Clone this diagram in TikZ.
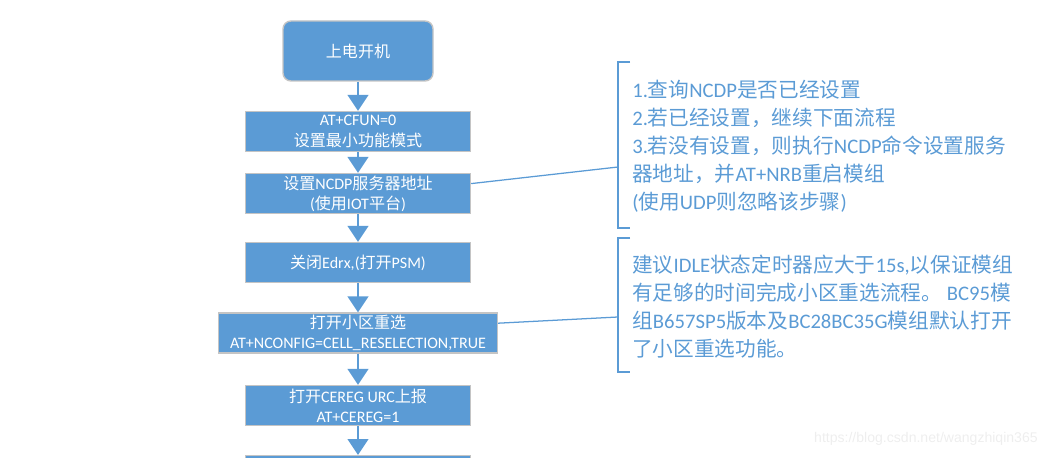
\documentclass[tikz,border=0pt]{standalone}
\usepackage{fontspec}
\setmainfont{Carlito}
\newfontfamily\zhfont{Noto Sans CJK SC}
\newfontfamily\markfont{Liberation Sans}
\newcommand{\zh}[1]{{\zhfont #1}}
\usetikzlibrary{arrows.meta}
\definecolor{boxblue}{HTML}{5B9BD5}
\definecolor{boxedge}{HTML}{C4C4C4}
\definecolor{notetext}{HTML}{5B9BD5}
\definecolor{marktext}{HTML}{EEEEEE}
\tikzset{
  stepbox/.style={draw=boxedge,fill=boxblue,line width=1pt,minimum width=5.625cm,minimum height=1cm,inner sep=0pt,text=white,align=center,font=\fontsize{11.4}{14.4}\selectfont},
  startbox/.style={stepbox,rounded corners=0.2cm,minimum width=3.75cm,minimum height=1.5cm},
  note/.style={font=\fontsize{14.7}{19.9}\selectfont,text=notetext,align=left,anchor=west,inner sep=0pt},
  bracket/.style={draw=boxblue,line width=1.4pt},
  link/.style={draw=boxblue,line width=0.9pt},
  arr/.style={-{Triangle[length=4mm,width=5.2mm]},draw=boxblue,line width=1.4pt}
}
\begin{document}
\begin{tikzpicture}[x=1cm,y=1cm]
\path[use as bounding box] (0,0) rectangle (26.2,11.425);
% flow
\node[startbox] (power) at (8.95,10.15) {\zh{上电开机}};
\node[stepbox] (cfun) at (8.95,8.1375) {AT+CFUN=0\\\zh{设置最小功能模式}};
\node[stepbox] (ncdp) at (8.95,6.5875) {\zh{设置}NCDP\zh{服务器地址}\\(\zh{使用}IOT\zh{平台})};
\node[stepbox] (edrx) at (8.95,4.8625) {\zh{关闭}Edrx,(\zh{打开}PSM)};
\node[stepbox,minimum width=6.975cm] (cell) at (8.95,3.1) {\zh{打开小区重选}\\AT+NCONFIG=CELL\_RESELECTION,TRUE};
\node[stepbox] (cereg) at (8.95,1.2875) {\zh{打开}CEREG URC\zh{上报}\\AT+CEREG=1};
\node[stepbox,anchor=north] (next) at (8.95,0.05) {};
\draw[arr] (power.south) -- (cfun.north);
\draw[arr] (cfun.south) -- (ncdp.north);
\draw[arr] (ncdp.south) -- (edrx.north);
\draw[arr] (edrx.south) -- (cell.north);
\draw[arr] (cell.south) -- (cereg.north);
\draw[arr] (cereg.south) -- (next.north);
% notes
\draw[bracket] (15.75,9.875) -- (15.45,9.875) -- (15.45,5.725) -- (15.75,5.725);
\coordinate (brk1) at (15.45,7.25);
\node[note] (note1) at (15.8,7.76) {1.\zh{查询}NCDP\zh{是否已经设置}\\2.\zh{若已经设置，继续下面流程}\\3.\zh{若没有设置，则执行}NCDP\zh{命令设置服务}\\\zh{器地址，并}AT+NRB\zh{重启模组}\\(\zh{使用}UDP\zh{则忽略该步骤})};
\draw[link] (ncdp.5) -- (brk1);
\draw[bracket] (15.75,5.475) -- (15.45,5.475) -- (15.45,2.125) -- (15.75,2.125);
\coordinate (brk2) at (15.45,3.5);
\node[note] (note2) at (15.8,3.7625) {\zh{建议}IDLE\zh{状态定时器应大于}15s,\zh{以保证模组}\\\zh{有足够的时间完成小区重选流程。} BC95\zh{模}\\\zh{组}B657SP5\zh{版本及}BC28BC35G\zh{模组默认打开}\\\zh{了小区重选功能。}};
\draw[link] (cell.4) -- (brk2);
\node[font=\markfont\fontsize{10}{12}\selectfont,text=marktext,anchor=east,inner sep=0pt] (mark) at (25.95,0.45) {https://blog.csdn.net/wangzhiqin365};
\end{tikzpicture}
\end{document}
